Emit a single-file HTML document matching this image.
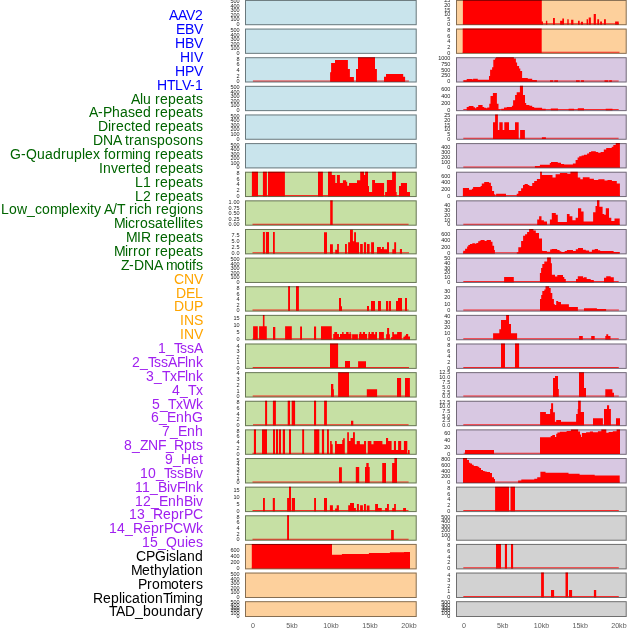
<!DOCTYPE html><html><head><meta charset="utf-8"><style>html,body{margin:0;padding:0;background:#fff;}svg{display:block;will-change:transform;}</style></head><body>
<svg width="630" height="630" viewBox="0 0 630 630">
<rect width="630" height="630" fill="#fff"/>
<g font-family="Liberation Sans, Arial, sans-serif" font-size="14">
<text x="169 178 186 195" y="20.45" fill="#0000ff">AAV2</text>
<text x="176 185 194" y="34.31" fill="#0000ff">EBV</text>
<text x="175 185 194" y="48.17" fill="#0000ff">HBV</text>
<text x="180 190 194" y="62.03" fill="#0000ff">HIV</text>
<text x="175 185 194" y="75.89" fill="#0000ff">HPV</text>
<text x="157 167 175 182 190 195" y="89.75" fill="#0000ff">HTLV-1</text>
<text x="131 140 143 151 155 160 168 176 184 192 196" y="103.60" fill="#006400">Alu repeats</text>
<text x="89 98 103 112 120 128 135 143 151 155 160 168 176 184 192 196" y="117.46" fill="#006400">A-Phased repeats</text>
<text x="98 108 111 116 124 131 135 143 151 155 160 168 176 184 192 196" y="131.32" fill="#006400">Directed repeats</text>
<text x="93 103 113 121 125 129 134 142 150 157 165 173 180 188 196" y="145.18" fill="#006400">DNA transposons</text>
<text x="10 21 26 37 45 53 61 66 74 82 85 93 100 104 108 116 121 132 135 143 151 155 160 168 176 184 192 196" y="159.04" fill="#006400">G-Quadruplex forming repeats</text>
<text x="99 103 111 118 126 131 135 143 151 155 160 168 176 184 192 196" y="172.90" fill="#006400">Inverted repeats</text>
<text x="135 143 151 155 160 168 176 184 192 196" y="186.76" fill="#006400">L1 repeats</text>
<text x="135 143 151 155 160 168 176 184 192 196" y="200.62" fill="#006400">L2 repeats</text>
<text x="1 9 17 27 35 42 50 61 69 72 80 87 90 94 101 104 113 117 125 129 134 137 144 152 156 161 169 177 180 188 196" y="214.48" fill="#006400">Low_complexity A/T rich regions</text>
<text x="114 125 128 135 140 148 155 163 167 175 178 181 184 188 196" y="228.33" fill="#006400">Microsatellites</text>
<text x="126 137 141 151 155 160 168 176 184 192 196" y="242.19" fill="#006400">MIR repeats</text>
<text x="114 125 128 133 138 146 151 155 160 168 176 184 192 196" y="256.05" fill="#006400">Mirror repeats</text>
<text x="121 129 134 144 154 162 166 177 185 189 192 196" y="269.91" fill="#006400">Z-DNA motifs</text>
<text x="174 184 194" y="283.77" fill="#ffa500">CNV</text>
<text x="176 186 195" y="297.63" fill="#ffa500">DEL</text>
<text x="174 184 194" y="311.49" fill="#ffa500">DUP</text>
<text x="180 184 194" y="325.35" fill="#ffa500">INS</text>
<text x="180 184 194" y="339.21" fill="#ffa500">INV</text>
<text x="158 166 174 180 187 194" y="353.07" fill="#a020f0">1_TssA</text>
<text x="132 140 148 154 161 168 177 185 188 196" y="366.93" fill="#a020f0">2_TssAFlnk</text>
<text x="146 154 162 170 177 185 188 196" y="380.78" fill="#a020f0">3_TxFlnk</text>
<text x="172 180 188 196" y="394.64" fill="#a020f0">4_Tx</text>
<text x="152 160 168 176 183 196" y="408.50" fill="#a020f0">5_TxWk</text>
<text x="151 159 167 176 184 192" y="422.36" fill="#a020f0">6_EnhG</text>
<text x="162 170 178 187 195" y="436.22" fill="#a020f0">7_Enh</text>
<text x="124 132 140 148 158 166 174 184 192 196" y="450.08" fill="#a020f0">8_ZNF_Rpts</text>
<text x="165 173 181 191 199" y="463.94" fill="#a020f0">9_Het</text>
<text x="140 148 156 164 170 177 184 193 196" y="477.80" fill="#a020f0">10_TssBiv</text>
<text x="135 142 150 158 167 170 177 185 188 196" y="491.66" fill="#a020f0">11_BivFlnk</text>
<text x="135 143 151 159 168 176 184 193 196" y="505.51" fill="#a020f0">12_EnhBiv</text>
<text x="129 137 145 153 163 171 179 184 193" y="519.37" fill="#a020f0">13_ReprPC</text>
<text x="109 117 125 133 143 151 159 164 173 183 196" y="533.23" fill="#a020f0">14_ReprPCWk</text>
<text x="142 150 158 166 177 185 188 196" y="547.09" fill="#a020f0">15_Quies</text>
<text x="136 146 155 166 169 176 179 187 195" y="560.95" fill="#000000">CPGisland</text>
<text x="131 142 150 154 162 169 172 180 184 187 195" y="574.81" fill="#000000">Methylation</text>
<text x="138 147 152 160 171 179 183 191 196" y="588.67" fill="#000000">Promoters</text>
<text x="93 103 111 119 122 125 132 140 144 147 155 163 170 173 184 187 195" y="602.53" fill="#000000">ReplicationTiming</text>
<text x="109 116 125 135 143 151 159 167 175 183 191 196" y="616.39" fill="#000000">TAD_boundary</text>
</g>
<rect x="245.0" y="-0.05" width="171.70" height="25.25" fill="#c9e4ec"/>
<rect x="245.5" y="0.45" width="170.70" height="24.25" fill="none" stroke="#000" stroke-opacity="0.47" stroke-width="1"/>
<rect x="456.0" y="-0.05" width="170.70" height="25.25" fill="#fdd09c"/>
<path d="M462.90 23.20H619.00V24.20H462.90Z" fill="#ff0000" fill-opacity="0.8"/><path d="M462.90 24.40L462.90 -0.05L541.80 -0.05L541.80 21.40L543.00 21.40L543.00 24.40ZM545.90 24.40L545.90 20.70L547.30 20.70L547.30 24.40ZM553.00 24.40L553.00 17.90L554.90 17.90L554.90 24.40ZM560.10 24.40L560.10 20.70L562.30 20.70L562.30 18.60L564.00 18.60L564.00 24.40ZM567.30 24.40L567.30 19.30L568.70 19.30L568.70 24.40ZM571.10 24.40L571.10 19.70L573.40 19.70L573.40 24.40ZM578.00 24.40L578.00 20.70L579.70 20.70L579.70 24.40ZM580.90 24.40L580.90 21.70L583.00 21.70L583.00 24.40ZM586.60 24.40L586.60 19.30L588.00 19.30L588.00 24.40ZM588.70 24.40L588.70 17.40L590.90 17.40L590.90 24.40ZM593.70 24.40L593.70 14.00L595.90 14.00L595.90 24.40ZM597.30 24.40L597.30 19.30L599.10 19.30L599.10 24.40ZM600.10 24.40L600.10 21.40L602.00 21.40L602.00 24.40ZM604.00 24.40L604.00 19.30L605.90 19.30L605.90 24.40ZM615.10 24.40L615.10 21.40L618.70 21.40L618.70 24.40Z" fill="#ff0000"/>
<rect x="456.5" y="0.45" width="169.70" height="24.25" fill="none" stroke="#000" stroke-opacity="0.47" stroke-width="1"/>
<rect x="245.0" y="28.58" width="171.70" height="25.26" fill="#c9e4ec"/>
<rect x="245.5" y="29.08" width="170.70" height="24.26" fill="none" stroke="#000" stroke-opacity="0.47" stroke-width="1"/>
<rect x="456.0" y="28.58" width="170.70" height="25.26" fill="#fdd09c"/>
<path d="M462.70 51.84H619.50V52.84H462.70Z" fill="#ff0000" fill-opacity="0.8"/><path d="M462.70 53.04L462.70 28.58L541.70 28.58L541.70 53.04Z" fill="#ff0000"/>
<rect x="456.5" y="29.08" width="169.70" height="24.26" fill="none" stroke="#000" stroke-opacity="0.47" stroke-width="1"/>
<rect x="245.0" y="57.21" width="171.70" height="25.27" fill="#c9e4ec"/>
<path d="M252.90 80.48H408.90V81.48H252.90Z" fill="#ff0000" fill-opacity="0.8"/><path d="M330.10 81.68L330.10 72.20L331.10 72.20L331.10 63.10L335.00 63.10L335.00 60.10L347.90 60.10L347.90 69.00L349.90 69.00L349.90 76.90L353.90 76.90L353.90 81.68ZM356.00 81.68L356.00 69.10L358.00 69.10L358.00 57.21L375.00 57.21L375.00 69.10L376.90 69.10L376.90 81.68ZM384.00 81.68L384.00 76.80L386.00 76.80L386.00 73.90L403.20 73.90L403.20 76.80L405.10 76.80L405.10 81.68Z" fill="#ff0000"/>
<rect x="245.5" y="57.71" width="170.70" height="24.27" fill="none" stroke="#000" stroke-opacity="0.47" stroke-width="1"/>
<rect x="456.0" y="57.21" width="170.70" height="25.27" fill="#d8c8e2"/>
<path d="M462.90 80.48H618.70V81.48H462.90Z" fill="#ff0000" fill-opacity="0.8"/><path d="M463.60 81.68L463.60 80.20L466.70 80.20L466.70 79.00L472.30 79.00L472.30 79.60L473.10 79.60L473.10 78.80L477.80 78.80L477.80 79.80L489.00 79.80L489.00 76.00L490.10 76.00L490.10 69.70L492.10 69.70L492.10 67.30L493.30 67.30L493.30 59.80L494.90 59.80L494.90 58.20L496.10 58.20L496.10 57.21L513.90 57.21L513.90 58.60L515.90 58.60L515.90 62.50L517.10 62.50L517.10 66.10L519.10 66.10L519.10 68.50L520.30 68.50L520.30 70.90L522.10 70.90L522.10 77.90L527.80 77.90L527.80 78.80L532.20 78.80L532.20 80.00L536.90 80.00L536.90 81.68ZM550.00 81.68L550.00 80.20L553.10 80.20L553.10 81.68ZM554.30 81.68L554.30 80.20L558.00 80.20L558.00 81.68ZM576.00 81.68L576.00 80.20L579.70 80.20L579.70 81.68ZM581.00 81.68L581.00 80.20L584.00 80.20L584.00 81.68ZM604.50 81.68L604.50 80.20L608.20 80.20L608.20 81.68ZM609.20 81.68L609.20 80.20L611.90 80.20L611.90 81.68Z" fill="#ff0000"/>
<rect x="456.5" y="57.71" width="169.70" height="24.27" fill="none" stroke="#000" stroke-opacity="0.47" stroke-width="1"/>
<rect x="245.0" y="85.84" width="171.70" height="25.28" fill="#c9e4ec"/>
<rect x="245.5" y="86.34" width="170.70" height="24.28" fill="none" stroke="#000" stroke-opacity="0.47" stroke-width="1"/>
<rect x="456.0" y="85.84" width="170.70" height="25.28" fill="#d8c8e2"/>
<path d="M463.30 109.12H618.70V110.12H463.30Z" fill="#ff0000" fill-opacity="0.8"/><path d="M466.70 110.32L466.70 107.00L468.70 107.00L468.70 106.10L473.50 106.10L473.50 107.20L475.10 107.20L475.10 108.20L476.30 108.20L476.30 106.90L478.20 106.90L478.20 105.00L482.60 105.00L482.60 107.00L484.20 107.00L484.20 107.80L486.20 107.80L486.20 108.20L487.20 108.20L487.20 107.60L489.30 107.60L489.30 103.80L490.50 103.80L490.50 95.90L492.90 95.90L492.90 93.10L496.90 93.10L496.90 103.80L498.50 103.80L498.50 109.40L500.10 109.40L500.10 110.32ZM501.30 110.32L501.30 108.80L504.00 108.80L504.00 107.60L506.80 107.60L506.80 107.00L511.90 107.00L511.90 105.80L513.10 105.80L513.10 100.30L515.10 100.30L515.10 95.10L516.70 95.10L516.70 92.20L519.90 92.20L519.90 85.84L523.00 85.84L523.00 95.10L525.00 95.10L525.00 103.00L526.20 103.00L526.20 105.00L529.40 105.00L529.40 105.80L532.20 105.80L532.20 107.00L534.20 107.00L534.20 107.80L542.10 107.80L542.10 108.80L545.70 108.80L545.70 110.32ZM550.80 110.32L550.80 108.50L558.00 108.50L558.00 110.32ZM568.60 110.32L568.60 108.80L574.10 108.80L574.10 110.32ZM577.80 110.32L577.80 108.30L584.00 108.30L584.00 110.32ZM605.70 110.32L605.70 108.80L612.50 108.80L612.50 110.32Z" fill="#ff0000"/>
<rect x="456.5" y="86.34" width="169.70" height="24.28" fill="none" stroke="#000" stroke-opacity="0.47" stroke-width="1"/>
<rect x="245.0" y="114.47" width="171.70" height="25.29" fill="#c9e4ec"/>
<rect x="245.5" y="114.97" width="170.70" height="24.29" fill="none" stroke="#000" stroke-opacity="0.47" stroke-width="1"/>
<rect x="456.0" y="114.47" width="170.70" height="25.29" fill="#d8c8e2"/>
<path d="M463.30 137.76H618.60V138.76H463.30Z" fill="#ff0000" fill-opacity="0.8"/><path d="M493.00 138.96L493.00 122.20L495.10 122.20L495.10 114.47L497.90 114.47L497.90 130.10L499.30 130.10L499.30 122.20L502.70 122.20L502.70 130.10L504.30 130.10L504.30 122.20L509.00 122.20L509.00 130.10L515.00 130.10L515.00 122.20L518.70 122.20L518.70 138.96ZM520.10 138.96L520.10 130.10L524.90 130.10L524.90 138.96ZM541.90 138.96L541.90 137.20L545.90 137.20L545.90 138.96Z" fill="#ff0000"/>
<rect x="456.5" y="114.97" width="169.70" height="24.29" fill="none" stroke="#000" stroke-opacity="0.47" stroke-width="1"/>
<rect x="245.0" y="143.10" width="171.70" height="25.30" fill="#c9e4ec"/>
<rect x="245.5" y="143.60" width="170.70" height="24.30" fill="none" stroke="#000" stroke-opacity="0.47" stroke-width="1"/>
<rect x="456.0" y="143.10" width="170.70" height="25.30" fill="#d8c8e2"/>
<path d="M463.30 166.40H620.00V167.40H463.30Z" fill="#ff0000" fill-opacity="0.8"/><path d="M534.90 167.60L534.90 166.00L539.90 166.00L539.90 164.80L549.80 164.80L549.80 163.00L551.00 163.00L551.00 161.90L557.80 161.90L557.80 162.80L561.00 162.80L561.00 163.90L564.10 163.90L564.10 164.40L572.90 164.40L572.90 163.60L575.60 163.60L575.60 160.00L577.60 160.00L577.60 157.50L579.20 157.50L579.20 156.30L581.60 156.30L581.60 155.50L583.90 155.50L583.90 154.80L587.10 154.80L587.10 153.60L589.10 153.60L589.10 152.00L591.10 152.00L591.10 151.20L595.80 151.20L595.80 152.00L598.20 152.00L598.20 152.70L600.60 152.70L600.60 151.90L603.80 151.90L603.80 149.50L606.20 149.50L606.20 148.00L611.70 148.00L611.70 146.80L613.30 146.80L613.30 145.00L615.70 145.00L615.70 143.10L619.90 143.10L619.90 167.60Z" fill="#ff0000"/>
<rect x="456.5" y="143.60" width="169.70" height="24.30" fill="none" stroke="#000" stroke-opacity="0.47" stroke-width="1"/>
<rect x="245.0" y="171.73" width="171.70" height="25.31" fill="#c6e0a4"/>
<path d="M251.90 195.04H410.00V196.04H251.90Z" fill="#ff0000" fill-opacity="0.8"/><path d="M251.90 196.24L251.90 171.73L258.00 171.73L258.00 196.24ZM262.90 196.24L262.90 171.73L266.90 171.73L266.90 196.24ZM268.00 196.24L268.00 171.73L284.90 171.73L284.90 196.24ZM318.00 196.24L318.00 171.73L322.90 171.73L322.90 196.24ZM328.00 196.24L328.00 171.73L331.80 171.73L331.80 175.10L335.30 175.10L335.30 183.00L336.90 183.00L336.90 175.10L339.90 175.10L339.90 183.00L342.90 183.00L342.90 180.20L346.10 180.20L346.10 181.70L347.20 181.70L347.20 185.70L349.00 185.70L349.00 183.00L357.00 183.00L357.00 180.20L360.20 180.20L360.20 171.73L364.00 171.73L364.00 175.00L365.10 175.00L365.10 171.73L368.00 171.73L368.00 186.00L369.00 186.00L369.00 192.10L372.10 192.10L372.10 180.10L375.00 180.10L375.00 183.10L384.10 183.10L384.10 196.24ZM385.10 196.24L385.10 192.10L386.90 192.10L386.90 180.10L392.10 180.10L392.10 171.73L395.90 171.73L395.90 192.00L396.70 192.00L396.70 196.24ZM399.00 196.24L399.00 186.00L400.90 186.00L400.90 183.10L407.00 183.10L407.00 192.10L410.00 192.10L410.00 196.24Z" fill="#ff0000"/>
<rect x="245.5" y="172.23" width="170.70" height="24.31" fill="none" stroke="#000" stroke-opacity="0.47" stroke-width="1"/>
<rect x="456.0" y="171.73" width="170.70" height="25.31" fill="#d8c8e2"/>
<path d="M462.90 195.04H619.90V196.04H462.90Z" fill="#ff0000" fill-opacity="0.8"/><path d="M462.90 196.24L462.90 188.10L469.00 188.10L469.00 189.80L471.90 189.80L471.90 188.80L473.10 188.80L473.10 187.10L480.60 187.10L480.60 185.90L481.80 185.90L481.80 183.50L484.20 183.50L484.20 181.90L489.00 181.90L489.00 182.70L490.90 182.70L490.90 185.90L492.10 185.90L492.10 191.00L494.10 191.00L494.10 194.20L495.30 194.20L495.30 196.24ZM496.10 196.24L496.10 193.80L506.00 193.80L506.00 196.24ZM516.70 196.24L516.70 193.80L518.30 193.80L518.30 191.00L521.10 191.00L521.10 188.30L523.00 188.30L523.00 185.10L524.60 185.10L524.60 184.10L527.80 184.10L527.80 185.10L529.40 185.10L529.40 185.90L532.20 185.90L532.20 183.10L534.20 183.10L534.20 181.10L536.90 181.10L536.90 179.10L540.10 179.10L540.10 171.73L541.90 171.73L541.90 174.90L546.90 174.90L546.90 174.90L552.00 174.90L552.00 175.00L552.50 175.00L552.50 177.40L555.60 177.40L555.60 174.30L559.90 174.30L559.90 173.10L567.30 173.10L567.30 173.80L570.40 173.80L570.40 171.73L577.80 171.73L577.80 177.40L580.30 177.40L580.30 179.30L582.80 179.30L582.80 177.20L589.60 177.20L589.60 178.70L593.90 178.70L593.90 180.10L598.30 180.10L598.30 179.30L604.50 179.30L604.50 180.50L607.50 180.50L607.50 179.90L611.90 179.90L611.90 181.10L616.80 181.10L616.80 183.60L619.90 183.60L619.90 196.24Z" fill="#ff0000"/>
<rect x="456.5" y="172.23" width="169.70" height="24.31" fill="none" stroke="#000" stroke-opacity="0.47" stroke-width="1"/>
<rect x="245.0" y="200.36" width="171.70" height="25.32" fill="#c6e0a4"/>
<path d="M252.50 223.68H408.60V224.68H252.50Z" fill="#ff0000" fill-opacity="0.8"/><path d="M330.20 224.88L330.20 200.36L332.70 200.36L332.70 224.88Z" fill="#ff0000"/>
<rect x="245.5" y="200.86" width="170.70" height="24.32" fill="none" stroke="#000" stroke-opacity="0.47" stroke-width="1"/>
<rect x="456.0" y="200.36" width="170.70" height="25.32" fill="#d8c8e2"/>
<path d="M463.30 223.68H619.70V224.68H463.30Z" fill="#ff0000" fill-opacity="0.8"/><path d="M537.20 224.88L537.20 219.40L539.10 219.40L539.10 216.30L541.50 216.30L541.50 220.20L543.90 220.20L543.90 221.50L547.00 221.50L547.00 224.88ZM549.90 224.88L549.90 219.40L551.80 219.40L551.80 213.10L555.80 213.10L555.80 214.70L557.80 214.70L557.80 222.10L566.90 222.10L566.90 213.90L569.60 213.90L569.60 216.30L572.40 216.30L572.40 220.20L575.60 220.20L575.60 217.80L578.00 217.80L578.00 208.30L581.20 208.30L581.20 211.50L583.60 211.50L583.60 221.50L593.10 221.50L593.10 212.30L595.50 212.30L595.50 205.90L597.00 205.90L597.00 200.36L599.40 200.36L599.40 206.70L602.60 206.70L602.60 213.90L604.20 213.90L604.20 214.70L605.80 214.70L605.80 208.30L609.00 208.30L609.00 217.80L611.30 217.80L611.30 221.00L614.50 221.00L614.50 218.60L619.70 218.60L619.70 224.88Z" fill="#ff0000"/>
<rect x="456.5" y="200.86" width="169.70" height="24.32" fill="none" stroke="#000" stroke-opacity="0.47" stroke-width="1"/>
<rect x="245.0" y="228.99" width="171.70" height="25.33" fill="#c6e0a4"/>
<path d="M252.50 252.32H409.00V253.32H252.50Z" fill="#ff0000" fill-opacity="0.8"/><path d="M262.90 253.52L262.90 232.00L264.90 232.00L264.90 253.52ZM265.90 253.52L265.90 232.00L269.00 232.00L269.00 253.52ZM273.00 253.52L273.00 232.00L274.80 232.00L274.80 253.52ZM324.00 253.52L324.00 232.20L327.00 232.20L327.00 253.52ZM330.00 253.52L330.00 244.30L332.90 244.30L332.90 253.52ZM335.20 253.52L335.20 249.80L337.10 249.80L337.10 244.10L338.90 244.10L338.90 253.52ZM345.00 253.52L345.00 244.10L346.90 244.10L346.90 253.52ZM348.10 253.52L348.10 242.20L350.00 242.20L350.00 229.80L352.90 229.80L352.90 241.20L354.10 241.20L354.10 232.20L356.00 232.20L356.00 242.20L358.90 242.20L358.90 242.20L359.00 242.20L359.00 253.52ZM360.10 253.52L360.10 244.10L362.80 244.10L362.80 253.52ZM363.90 253.52L363.90 242.20L366.10 242.20L366.10 253.52ZM367.00 253.52L367.00 244.10L369.60 244.10L369.60 253.52ZM371.10 253.52L371.10 242.20L374.00 242.20L374.00 253.52ZM377.00 253.52L377.00 247.10L380.90 247.10L380.90 248.90L382.00 248.90L382.00 247.10L383.90 247.10L383.90 249.30L387.00 249.30L387.00 242.20L389.00 242.20L389.00 253.52ZM392.30 253.52L392.30 249.30L394.20 249.30L394.20 242.20L396.10 242.20L396.10 253.52ZM399.90 253.52L399.90 249.00L402.00 249.00L402.00 253.52Z" fill="#ff0000"/>
<rect x="245.5" y="229.49" width="170.70" height="24.33" fill="none" stroke="#000" stroke-opacity="0.47" stroke-width="1"/>
<rect x="456.0" y="228.99" width="170.70" height="25.33" fill="#d8c8e2"/>
<path d="M462.90 252.32H619.70V253.32H462.90Z" fill="#ff0000" fill-opacity="0.8"/><path d="M462.90 253.52L462.90 253.20L463.20 253.20L463.20 250.80L465.10 250.80L465.10 248.80L467.10 248.80L467.10 246.40L468.30 246.40L468.30 245.10L469.90 245.10L469.90 244.10L472.30 244.10L472.30 243.30L475.10 243.30L475.10 243.80L476.30 243.80L476.30 242.90L478.20 242.90L478.20 241.30L479.80 241.30L479.80 240.50L481.00 240.50L481.00 239.90L484.60 239.90L484.60 240.90L486.60 240.90L486.60 239.90L490.90 239.90L490.90 241.70L492.50 241.70L492.50 245.70L494.10 245.70L494.10 250.00L494.90 250.00L494.90 253.52ZM516.80 253.52L516.80 252.20L518.30 252.20L518.30 247.20L521.10 247.20L521.10 241.10L523.10 241.10L523.10 235.70L525.10 235.70L525.10 234.30L527.10 234.30L527.10 231.90L529.10 231.90L529.10 228.99L533.40 228.99L533.40 230.60L535.80 230.60L535.80 233.00L539.00 233.00L539.00 238.50L542.00 238.50L542.00 250.80L543.00 250.80L543.00 251.00L546.90 251.00L546.90 251.80L550.10 251.80L550.10 249.60L551.70 249.60L551.70 249.10L557.20 249.10L557.20 250.00L559.60 250.00L559.60 251.20L561.30 251.20L561.30 252.00L564.70 252.00L564.70 250.90L566.90 250.90L566.90 250.10L573.00 250.10L573.00 250.90L575.80 250.90L575.80 249.20L578.00 249.20L578.00 247.90L583.00 247.90L583.00 249.80L585.80 249.80L585.80 250.60L589.10 250.60L589.10 251.70L591.90 251.70L591.90 249.80L594.70 249.80L594.70 249.00L598.00 249.00L598.00 250.30L600.20 250.30L600.20 250.90L613.60 250.90L613.60 252.00L619.70 252.00L619.70 253.52Z" fill="#ff0000"/>
<rect x="456.5" y="229.49" width="169.70" height="24.33" fill="none" stroke="#000" stroke-opacity="0.47" stroke-width="1"/>
<rect x="245.0" y="257.62" width="171.70" height="25.34" fill="#c6e0a4"/>
<rect x="245.5" y="258.12" width="170.70" height="24.34" fill="none" stroke="#000" stroke-opacity="0.47" stroke-width="1"/>
<rect x="456.0" y="257.62" width="170.70" height="25.34" fill="#d8c8e2"/>
<path d="M463.30 280.96H618.70V281.96H463.30Z" fill="#ff0000" fill-opacity="0.8"/><path d="M504.10 282.16L504.10 277.00L513.80 277.00L513.80 282.16ZM539.90 282.16L539.90 273.10L541.10 273.10L541.10 268.10L542.30 268.10L542.30 263.90L544.30 263.90L544.30 261.40L547.10 261.40L547.10 257.62L550.90 257.62L550.90 263.30L551.90 263.30L551.90 274.70L555.00 274.70L555.00 276.60L557.30 276.60L557.30 274.90L563.00 274.90L563.00 277.00L564.30 277.00L564.30 279.00L565.80 279.00L565.80 282.16ZM576.00 282.16L576.00 279.10L577.80 279.10L577.80 276.30L583.10 276.30L583.10 277.80L584.00 277.80L584.00 277.20L586.70 277.20L586.70 279.10L590.70 279.10L590.70 280.00L593.80 280.00L593.80 282.16ZM604.00 282.16L604.00 277.80L606.20 277.80L606.20 276.30L610.70 276.30L610.70 277.20L613.80 277.20L613.80 282.16Z" fill="#ff0000"/>
<rect x="456.5" y="258.12" width="169.70" height="24.34" fill="none" stroke="#000" stroke-opacity="0.47" stroke-width="1"/>
<rect x="245.0" y="286.25" width="171.70" height="25.35" fill="#c6e0a4"/>
<path d="M252.50 309.60H408.70V310.60H252.50Z" fill="#ff0000" fill-opacity="0.8"/><path d="M288.10 310.80L288.10 286.25L290.00 286.25L290.00 310.80ZM296.00 310.80L296.00 286.25L298.90 286.25L298.90 310.80ZM339.00 310.80L339.00 298.00L341.00 298.00L341.00 306.30L342.00 306.30L342.00 310.80ZM367.00 310.80L367.00 306.00L369.00 306.00L369.00 310.80ZM371.00 310.80L371.00 301.00L375.00 301.00L375.00 310.80ZM378.00 310.80L378.00 301.10L381.00 301.10L381.00 310.80ZM386.00 310.80L386.00 301.10L388.10 301.10L388.10 310.80ZM388.80 310.80L388.80 301.10L391.00 301.10L391.00 310.80ZM396.00 310.80L396.00 301.10L398.00 301.10L398.00 298.00L402.00 298.00L402.00 310.80ZM405.00 310.80L405.00 298.00L407.00 298.00L407.00 310.80Z" fill="#ff0000"/>
<rect x="245.5" y="286.75" width="170.70" height="24.35" fill="none" stroke="#000" stroke-opacity="0.47" stroke-width="1"/>
<rect x="456.0" y="286.25" width="170.70" height="25.35" fill="#d8c8e2"/>
<path d="M463.30 309.60H618.90V310.60H463.30Z" fill="#ff0000" fill-opacity="0.8"/><path d="M540.00 310.80L540.00 299.10L541.20 299.10L541.20 295.10L542.30 295.10L542.30 291.00L544.30 291.00L544.30 289.60L545.50 289.60L545.50 286.25L549.10 286.25L549.10 288.00L550.70 288.00L550.70 293.10L552.30 293.10L552.30 299.10L553.90 299.10L553.90 304.20L555.00 304.20L555.00 305.00L556.20 305.00L556.20 301.10L558.20 301.10L558.20 302.10L561.00 302.10L561.00 304.20L568.90 304.20L568.90 307.00L577.90 307.00L577.90 310.80ZM584.00 310.80L584.00 308.20L596.90 308.20L596.90 309.10L606.10 309.10L606.10 310.80Z" fill="#ff0000"/>
<rect x="456.5" y="286.75" width="169.70" height="24.35" fill="none" stroke="#000" stroke-opacity="0.47" stroke-width="1"/>
<rect x="245.0" y="314.88" width="171.70" height="25.36" fill="#c6e0a4"/>
<path d="M252.50 338.24H410.00V339.24H252.50Z" fill="#ff0000" fill-opacity="0.8"/><path d="M253.10 339.44L253.10 326.30L257.80 326.30L257.80 339.44ZM259.10 339.44L259.10 326.30L262.90 326.30L262.90 314.88L264.50 314.88L264.50 326.30L266.80 326.30L266.80 339.44ZM273.00 339.44L273.00 327.00L275.30 327.00L275.30 339.44ZM285.10 339.44L285.10 326.30L291.80 326.30L291.80 339.44ZM300.10 339.44L300.10 326.50L302.00 326.50L302.00 339.44ZM314.00 339.44L314.00 326.50L316.10 326.50L316.10 339.44ZM321.00 339.44L321.00 326.30L331.80 326.30L331.80 339.44ZM333.20 339.44L333.20 334.10L334.30 334.10L334.30 331.90L337.10 331.90L337.10 334.10L339.00 334.10L339.00 336.90L340.00 336.90L340.00 334.10L342.10 334.10L342.10 331.90L343.60 331.90L343.60 334.10L346.10 334.10L346.10 331.90L348.60 331.90L348.60 334.10L349.60 334.10L349.60 331.90L350.70 331.90L350.70 334.10L351.40 334.10L351.40 339.44ZM352.10 339.44L352.10 334.30L357.90 334.30L357.90 339.44ZM358.90 339.44L358.90 334.10L359.60 334.10L359.60 331.90L361.40 331.90L361.40 334.10L362.90 334.10L362.90 331.90L365.00 331.90L365.00 334.10L367.10 334.10L367.10 339.44ZM368.20 339.44L368.20 334.10L368.60 334.10L368.60 331.90L370.00 331.90L370.00 334.10L371.40 334.10L371.40 332.00L373.90 332.00L373.90 334.20L375.20 334.20L375.20 332.10L377.00 332.10L377.00 339.44ZM379.00 339.44L379.00 332.10L383.90 332.10L383.90 339.44ZM386.10 339.44L386.10 334.20L387.10 334.20L387.10 328.00L389.10 328.00L389.10 334.20L389.90 334.20L389.90 339.44ZM391.20 339.44L391.20 337.00L392.20 337.00L392.20 332.10L393.90 332.10L393.90 334.20L397.10 334.20L397.10 332.10L401.80 332.10L401.80 339.44ZM403.40 339.44L403.40 336.70L404.70 336.70L404.70 335.50L406.00 335.50L406.00 334.00L408.20 334.00L408.20 336.40L410.00 336.40L410.00 339.44Z" fill="#ff0000"/>
<rect x="245.5" y="315.38" width="170.70" height="24.36" fill="none" stroke="#000" stroke-opacity="0.47" stroke-width="1"/>
<rect x="456.0" y="314.88" width="170.70" height="25.36" fill="#d8c8e2"/>
<path d="M463.30 338.24H618.80V339.24H463.30Z" fill="#ff0000" fill-opacity="0.8"/><path d="M493.10 339.44L493.10 333.20L499.30 333.20L499.30 329.20L501.00 329.20L501.00 320.10L506.10 320.10L506.10 314.88L509.00 314.88L509.00 323.90L511.00 323.90L511.00 333.20L517.10 333.20L517.10 339.44ZM579.10 339.44L579.10 336.10L582.80 336.10L582.80 339.44ZM591.20 339.44L591.20 336.10L594.70 336.10L594.70 339.44ZM605.30 339.44L605.30 336.10L606.30 336.10L606.30 334.20L608.20 334.20L608.20 336.10L610.50 336.10L610.50 339.44Z" fill="#ff0000"/>
<rect x="456.5" y="315.38" width="169.70" height="24.36" fill="none" stroke="#000" stroke-opacity="0.47" stroke-width="1"/>
<rect x="245.0" y="343.51" width="171.70" height="25.37" fill="#c6e0a4"/>
<path d="M252.70 366.88H409.00V367.88H252.70Z" fill="#ff0000" fill-opacity="0.8"/><path d="M330.00 368.08L330.00 343.51L338.10 343.51L338.10 368.08ZM345.00 368.08L345.00 361.10L350.00 361.10L350.00 368.08ZM358.10 368.08L358.10 361.20L366.00 361.20L366.00 368.08Z" fill="#ff0000"/>
<rect x="245.5" y="344.01" width="170.70" height="24.37" fill="none" stroke="#000" stroke-opacity="0.47" stroke-width="1"/>
<rect x="456.0" y="343.51" width="170.70" height="25.37" fill="#d8c8e2"/>
<path d="M463.30 366.88H618.80V367.88H463.30Z" fill="#ff0000" fill-opacity="0.8"/><path d="M501.00 368.08L501.00 343.51L505.00 343.51L505.00 368.08ZM515.00 368.08L515.00 343.51L519.10 343.51L519.10 368.08Z" fill="#ff0000"/>
<rect x="456.5" y="344.01" width="169.70" height="24.37" fill="none" stroke="#000" stroke-opacity="0.47" stroke-width="1"/>
<rect x="245.0" y="372.14" width="171.70" height="25.38" fill="#c6e0a4"/>
<path d="M252.70 395.52H409.90V396.52H252.70Z" fill="#ff0000" fill-opacity="0.8"/><path d="M331.00 396.72L331.00 384.10L333.30 384.10L333.30 389.20L333.90 389.20L333.90 396.72ZM338.10 396.72L338.10 372.14L349.00 372.14L349.00 396.72ZM366.80 396.72L366.80 389.20L377.10 389.20L377.10 396.72ZM397.00 396.72L397.00 378.10L401.10 378.10L401.10 396.72ZM405.00 396.72L405.00 378.10L409.90 378.10L409.90 396.72Z" fill="#ff0000"/>
<rect x="245.5" y="372.64" width="170.70" height="24.38" fill="none" stroke="#000" stroke-opacity="0.47" stroke-width="1"/>
<rect x="456.0" y="372.14" width="170.70" height="25.38" fill="#d8c8e2"/>
<path d="M463.30 395.52H618.80V396.52H463.30Z" fill="#ff0000" fill-opacity="0.8"/><path d="M553.00 396.72L553.00 378.00L555.00 378.00L555.00 376.10L558.00 376.10L558.00 389.00L558.80 389.00L558.80 396.72ZM579.00 396.72L579.00 372.14L584.00 372.14L584.00 387.90L586.00 387.90L586.00 396.72ZM605.30 396.72L605.30 389.30L612.40 389.30L612.40 392.80L614.00 392.80L614.00 396.72Z" fill="#ff0000"/>
<rect x="456.5" y="372.64" width="169.70" height="24.38" fill="none" stroke="#000" stroke-opacity="0.47" stroke-width="1"/>
<rect x="245.0" y="400.77" width="171.70" height="25.39" fill="#c6e0a4"/>
<path d="M253.00 424.16H408.60V425.16H253.00Z" fill="#ff0000" fill-opacity="0.8"/><path d="M265.10 425.36L265.10 400.77L267.10 400.77L267.10 425.36ZM272.90 425.36L272.90 400.77L275.90 400.77L275.90 425.36ZM287.70 425.36L287.70 400.77L290.00 400.77L290.00 425.36ZM291.70 425.36L291.70 400.77L295.10 400.77L295.10 425.36ZM314.00 425.36L314.00 400.77L316.10 400.77L316.10 425.36ZM324.10 425.36L324.10 400.77L326.90 400.77L326.90 425.36ZM351.00 425.36L351.00 420.80L353.30 420.80L353.30 425.36Z" fill="#ff0000"/>
<rect x="245.5" y="401.27" width="170.70" height="24.39" fill="none" stroke="#000" stroke-opacity="0.47" stroke-width="1"/>
<rect x="456.0" y="400.77" width="170.70" height="25.39" fill="#d8c8e2"/>
<path d="M463.30 424.16H620.00V425.16H463.30Z" fill="#ff0000" fill-opacity="0.8"/><path d="M540.10 425.36L540.10 412.10L545.90 412.10L545.90 413.90L550.10 413.90L550.10 409.10L551.10 409.10L551.10 403.20L553.10 403.20L553.10 412.30L554.90 412.30L554.90 421.80L556.20 421.80L556.20 420.10L561.00 420.10L561.00 421.80L576.10 421.80L576.10 413.90L577.70 413.90L577.70 409.10L578.10 409.10L578.10 400.77L580.80 400.77L580.80 412.10L584.00 412.10L584.00 425.36ZM593.00 425.36L593.00 418.20L602.90 418.20L602.90 425.36ZM604.00 425.36L604.00 409.00L607.00 409.00L607.00 405.20L609.10 405.20L609.10 409.00L610.90 409.00L610.90 425.36ZM616.00 425.36L616.00 418.20L620.00 418.20L620.00 425.36Z" fill="#ff0000"/>
<rect x="456.5" y="401.27" width="169.70" height="24.39" fill="none" stroke="#000" stroke-opacity="0.47" stroke-width="1"/>
<rect x="245.0" y="429.40" width="171.70" height="25.40" fill="#c6e0a4"/>
<path d="M252.40 452.80H409.60V453.80H252.40Z" fill="#ff0000" fill-opacity="0.8"/><path d="M253.90 454.00L253.90 429.40L256.00 429.40L256.00 454.00ZM262.00 454.00L262.00 429.40L267.00 429.40L267.00 454.00ZM273.00 454.00L273.00 429.40L275.00 429.40L275.00 454.00ZM276.00 454.00L276.00 429.40L278.10 429.40L278.10 454.00ZM279.00 454.00L279.00 429.40L281.00 429.40L281.00 454.00ZM282.80 454.00L282.80 429.40L285.00 429.40L285.00 454.00ZM289.00 454.00L289.00 429.40L291.00 429.40L291.00 454.00ZM302.20 454.00L302.20 429.40L304.10 429.40L304.10 454.00ZM314.10 454.00L314.10 429.40L319.30 429.40L319.30 454.00ZM321.90 454.00L321.90 429.40L324.10 429.40L324.10 454.00ZM327.00 454.00L327.00 429.40L328.90 429.40L328.90 454.00ZM330.10 454.00L330.10 441.10L331.70 441.10L331.70 444.20L332.70 444.20L332.70 454.00ZM335.00 454.00L335.00 441.10L336.80 441.10L336.80 444.00L342.20 444.00L342.20 439.90L343.10 439.90L343.10 438.30L344.80 438.30L344.80 454.00ZM347.20 454.00L347.20 432.30L348.90 432.30L348.90 441.10L350.50 441.10L350.50 438.00L353.00 438.00L353.00 432.30L354.90 432.30L354.90 444.20L356.70 444.20L356.70 441.10L359.90 441.10L359.90 444.20L364.00 444.20L364.00 441.10L366.10 441.10L366.10 454.00ZM367.70 454.00L367.70 441.10L371.40 441.10L371.40 444.20L373.50 444.20L373.50 441.10L382.40 441.10L382.40 444.20L386.00 444.20L386.00 438.00L388.10 438.00L388.10 441.10L391.60 441.10L391.60 450.00L393.90 450.00L393.90 441.10L396.00 441.10L396.00 450.00L398.10 450.00L398.10 441.10L401.20 441.10L401.20 450.00L403.90 450.00L403.90 441.10L407.30 441.10L407.30 454.00ZM408.00 454.00L408.00 450.00L409.60 450.00L409.60 454.00Z" fill="#ff0000"/>
<rect x="245.5" y="429.90" width="170.70" height="24.40" fill="none" stroke="#000" stroke-opacity="0.47" stroke-width="1"/>
<rect x="456.0" y="429.40" width="170.70" height="25.40" fill="#d8c8e2"/>
<path d="M463.70 452.80H620.00V453.80H463.70Z" fill="#ff0000" fill-opacity="0.8"/><path d="M465.00 454.00L465.00 450.00L494.00 450.00L494.00 454.00ZM540.00 454.00L540.00 437.20L550.70 437.20L550.70 436.10L552.30 436.10L552.30 434.90L555.00 434.90L555.00 436.90L556.20 436.90L556.20 433.70L557.40 433.70L557.40 432.60L559.80 432.60L559.80 431.80L566.60 431.80L566.60 431.00L570.90 431.00L570.90 429.40L578.10 429.40L578.10 431.40L580.00 431.40L580.00 434.50L581.10 434.50L581.10 436.90L581.90 436.90L581.90 433.10L586.10 433.10L586.10 432.30L589.90 432.30L589.90 431.40L593.00 431.40L593.00 432.20L597.90 432.20L597.90 431.20L601.30 431.20L601.30 429.40L606.30 429.40L606.30 432.80L608.60 432.80L608.60 432.00L612.80 432.00L612.80 431.20L616.60 431.20L616.60 429.40L620.00 429.40L620.00 454.00Z" fill="#ff0000"/>
<rect x="456.5" y="429.90" width="169.70" height="24.40" fill="none" stroke="#000" stroke-opacity="0.47" stroke-width="1"/>
<rect x="245.0" y="458.03" width="171.70" height="25.41" fill="#c6e0a4"/>
<path d="M252.50 481.44H408.60V482.44H252.50Z" fill="#ff0000" fill-opacity="0.8"/><path d="M339.00 482.64L339.00 467.20L341.90 467.20L341.90 482.64ZM355.80 482.64L355.80 467.00L359.20 467.00L359.20 482.64ZM365.00 482.64L365.00 467.00L366.30 467.00L366.30 463.10L368.70 463.10L368.70 467.00L369.70 467.00L369.70 482.64ZM382.20 482.64L382.20 463.10L386.00 463.10L386.00 482.64ZM392.10 482.64L392.10 463.10L394.40 463.10L394.40 458.03L397.00 458.03L397.00 482.64Z" fill="#ff0000"/>
<rect x="245.5" y="458.53" width="170.70" height="24.41" fill="none" stroke="#000" stroke-opacity="0.47" stroke-width="1"/>
<rect x="456.0" y="458.03" width="170.70" height="25.41" fill="#d8c8e2"/>
<path d="M463.00 481.44H619.70V482.44H463.00Z" fill="#ff0000" fill-opacity="0.8"/><path d="M463.00 482.64L463.00 458.03L467.00 458.03L467.00 460.00L469.00 460.00L469.00 462.70L470.30 462.70L470.30 463.50L472.00 463.50L472.00 464.70L473.70 464.70L473.70 466.00L477.70 466.00L477.70 466.70L479.30 466.70L479.30 468.00L481.00 468.00L481.00 470.00L483.00 470.00L483.00 471.00L484.70 471.00L484.70 471.50L486.70 471.50L486.70 472.00L490.00 472.00L490.00 473.00L492.00 473.00L492.00 477.20L494.00 477.20L494.00 479.00L495.00 479.00L495.00 482.64ZM518.10 482.64L518.10 480.40L521.30 480.40L521.30 479.60L534.30 479.60L534.30 478.80L537.20 478.80L537.20 477.20L540.40 477.20L540.40 471.70L545.50 471.70L545.50 472.80L568.50 472.80L568.50 473.70L579.60 473.70L579.60 474.80L594.70 474.80L594.70 475.60L619.70 475.60L619.70 482.64Z" fill="#ff0000"/>
<rect x="456.5" y="458.53" width="169.70" height="24.41" fill="none" stroke="#000" stroke-opacity="0.47" stroke-width="1"/>
<rect x="245.0" y="486.66" width="171.70" height="25.42" fill="#c6e0a4"/>
<path d="M252.50 510.08H408.50V511.08H252.50Z" fill="#ff0000" fill-opacity="0.8"/><path d="M263.00 511.28L263.00 498.10L264.90 498.10L264.90 511.28ZM272.80 511.28L272.80 498.10L274.90 498.10L274.90 511.28ZM287.10 511.28L287.10 498.10L289.00 498.10L289.00 486.66L291.00 486.66L291.00 511.28ZM291.80 511.28L291.80 498.10L295.00 498.10L295.00 511.28ZM314.10 511.28L314.10 498.10L316.00 498.10L316.00 511.28ZM324.00 511.28L324.00 498.10L327.00 498.10L327.00 511.28ZM329.90 511.28L329.90 505.20L332.90 505.20L332.90 511.28ZM335.10 511.28L335.10 508.40L336.70 508.40L336.70 505.20L338.90 505.20L338.90 511.28ZM348.20 511.28L348.20 505.20L350.00 505.20L350.00 503.10L354.00 503.10L354.00 508.00L355.90 508.00L355.90 511.28ZM356.90 511.28L356.90 504.00L358.90 504.00L358.90 511.28ZM360.10 511.28L360.10 505.20L362.90 505.20L362.90 511.28ZM364.00 511.28L364.00 504.00L365.90 504.00L365.90 511.28ZM366.80 511.28L366.80 505.40L369.50 505.40L369.50 511.28ZM375.10 511.28L375.10 504.10L378.00 504.10L378.00 508.10L381.80 508.10L381.80 511.28ZM385.10 511.28L385.10 508.10L387.00 508.10L387.00 504.10L388.90 504.10L388.90 511.28ZM392.20 511.28L392.20 508.10L394.10 508.10L394.10 504.10L395.90 504.10L395.90 511.28ZM403.10 511.28L403.10 508.10L406.00 508.10L406.00 511.28Z" fill="#ff0000"/>
<rect x="245.5" y="487.16" width="170.70" height="24.42" fill="none" stroke="#000" stroke-opacity="0.47" stroke-width="1"/>
<rect x="456.0" y="486.66" width="170.70" height="25.42" fill="#d2d2d2"/>
<path d="M463.30 510.08H618.80V511.08H463.30Z" fill="#ff0000" fill-opacity="0.8"/><path d="M495.10 511.28L495.10 486.66L509.00 486.66L509.00 511.28ZM510.50 511.28L510.50 486.66L515.00 486.66L515.00 511.28Z" fill="#ff0000"/>
<rect x="456.5" y="487.16" width="169.70" height="24.42" fill="none" stroke="#000" stroke-opacity="0.47" stroke-width="1"/>
<rect x="245.0" y="515.29" width="171.70" height="25.43" fill="#c6e0a4"/>
<path d="M252.50 538.72H408.60V539.72H252.50Z" fill="#ff0000" fill-opacity="0.8"/><path d="M287.10 539.92L287.10 515.29L289.00 515.29L289.00 539.92ZM391.10 539.92L391.10 529.90L393.80 529.90L393.80 539.92Z" fill="#ff0000"/>
<rect x="245.5" y="515.79" width="170.70" height="24.43" fill="none" stroke="#000" stroke-opacity="0.47" stroke-width="1"/>
<rect x="456.0" y="515.29" width="170.70" height="25.43" fill="#d2d2d2"/>
<rect x="456.5" y="515.79" width="169.70" height="24.43" fill="none" stroke="#000" stroke-opacity="0.47" stroke-width="1"/>
<rect x="245.0" y="543.92" width="171.70" height="25.44" fill="#fdd09c"/>
<path d="M251.80 567.36H410.00V568.36H251.80Z" fill="#ff0000" fill-opacity="0.8"/><path d="M251.80 568.56L251.80 543.92L332.00 543.92L332.00 554.70L341.90 554.70L341.90 553.90L368.90 553.90L368.90 553.10L389.90 553.10L389.90 552.30L404.10 552.30L404.10 551.90L410.00 551.90L410.00 568.56Z" fill="#ff0000"/>
<rect x="245.5" y="544.42" width="170.70" height="24.44" fill="none" stroke="#000" stroke-opacity="0.47" stroke-width="1"/>
<rect x="456.0" y="543.92" width="170.70" height="25.44" fill="#d2d2d2"/>
<path d="M463.30 567.36H618.80V568.36H463.30Z" fill="#ff0000" fill-opacity="0.8"/><path d="M496.00 568.56L496.00 543.92L501.00 543.92L501.00 568.56ZM504.90 568.56L504.90 543.92L507.00 543.92L507.00 568.56ZM511.00 568.56L511.00 543.92L513.10 543.92L513.10 568.56Z" fill="#ff0000"/>
<rect x="456.5" y="544.42" width="169.70" height="24.44" fill="none" stroke="#000" stroke-opacity="0.47" stroke-width="1"/>
<rect x="245.0" y="572.55" width="171.70" height="25.45" fill="#fdd09c"/>
<rect x="245.5" y="573.05" width="170.70" height="24.45" fill="none" stroke="#000" stroke-opacity="0.47" stroke-width="1"/>
<rect x="456.0" y="572.55" width="170.70" height="25.45" fill="#d2d2d2"/>
<path d="M463.30 596.00H618.80V597.00H463.30Z" fill="#ff0000" fill-opacity="0.8"/><path d="M541.10 597.20L541.10 572.55L543.90 572.55L543.90 597.20ZM551.00 597.20L551.00 590.10L554.10 590.10L554.10 597.20ZM565.50 597.20L565.50 572.55L568.00 572.55L568.00 597.20ZM569.00 597.20L569.00 590.10L572.10 590.10L572.10 597.20ZM593.90 597.20L593.90 590.10L596.20 590.10L596.20 597.20Z" fill="#ff0000"/>
<rect x="456.5" y="573.05" width="169.70" height="24.45" fill="none" stroke="#000" stroke-opacity="0.47" stroke-width="1"/>
<rect x="245.0" y="601.18" width="171.70" height="15.82" fill="#fdd09c"/>
<rect x="245.5" y="601.68" width="170.70" height="14.82" fill="none" stroke="#000" stroke-opacity="0.47" stroke-width="1"/>
<rect x="456.0" y="601.18" width="170.70" height="15.82" fill="#d2d2d2"/>
<rect x="456.5" y="601.68" width="169.70" height="14.82" fill="none" stroke="#000" stroke-opacity="0.47" stroke-width="1"/>
<g font-family="Liberation Sans, sans-serif" font-size="5.5" fill="#222222">
<text x="236.6" y="25.97">0</text><text x="230.6 233.6 236.6" y="21.46">100</text><text x="230.6 233.6 236.6" y="16.95">200</text><text x="230.6 233.6 236.6" y="12.44">300</text><text x="230.6 233.6 236.6" y="7.93">400</text><text x="230.6 233.6 236.6" y="3.42">500</text>
<text x="447.3" y="25.97">0</text><text x="447.3" y="21.18">5</text><text x="444.3 447.3" y="16.39">10</text><text x="444.3 447.3" y="11.60">15</text><text x="444.3 447.3" y="6.81">20</text><text x="444.3 447.3" y="2.02">25</text>
<text x="236.6" y="54.61">0</text><text x="230.6 233.6 236.6" y="50.10">100</text><text x="230.6 233.6 236.6" y="45.59">200</text><text x="230.6 233.6 236.6" y="41.07">300</text><text x="230.6 233.6 236.6" y="36.56">400</text><text x="230.6 233.6 236.6" y="32.05">500</text>
<text x="447.3" y="54.61">0</text><text x="447.3" y="48.97">2</text><text x="447.3" y="43.33">4</text><text x="447.3" y="37.69">6</text><text x="447.3" y="32.05">8</text>
<text x="236.6" y="83.25">0</text><text x="236.6" y="77.58">2</text><text x="236.6" y="71.91">4</text><text x="236.6" y="66.25">6</text><text x="236.6" y="60.58">8</text>
<text x="447.3" y="83.25">0</text><text x="441.3 444.3 447.3" y="77.48">250</text><text x="441.3 444.3 447.3" y="71.71">500</text><text x="441.3 444.3 447.3" y="65.95">750</text><text x="438.3 441.3 444.3 447.3" y="60.18">1000</text>
<text x="236.6" y="111.89">0</text><text x="230.6 233.6 236.6" y="107.37">100</text><text x="230.6 233.6 236.6" y="102.86">200</text><text x="230.6 233.6 236.6" y="98.34">300</text><text x="230.6 233.6 236.6" y="93.82">400</text><text x="230.6 233.6 236.6" y="89.31">500</text>
<text x="447.3" y="111.89">0</text><text x="441.3 444.3 447.3" y="104.83">200</text><text x="441.3 444.3 447.3" y="97.77">400</text><text x="441.3 444.3 447.3" y="90.71">600</text>
<text x="236.6" y="140.53">0</text><text x="230.6 233.6 236.6" y="136.01">100</text><text x="230.6 233.6 236.6" y="131.49">200</text><text x="230.6 233.6 236.6" y="126.97">300</text><text x="230.6 233.6 236.6" y="122.46">400</text><text x="230.6 233.6 236.6" y="117.94">500</text>
<text x="447.3" y="140.53">0</text><text x="447.3" y="135.87">5</text><text x="444.3 447.3" y="131.21">10</text><text x="444.3 447.3" y="126.55">15</text><text x="444.3 447.3" y="121.90">20</text><text x="444.3 447.3" y="117.24">25</text>
<text x="236.6" y="169.17">0</text><text x="230.6 233.6 236.6" y="164.65">100</text><text x="230.6 233.6 236.6" y="160.13">200</text><text x="230.6 233.6 236.6" y="155.61">300</text><text x="230.6 233.6 236.6" y="151.09">400</text><text x="230.6 233.6 236.6" y="146.57">500</text>
<text x="447.3" y="169.17">0</text><text x="441.3 444.3 447.3" y="164.17">100</text><text x="441.3 444.3 447.3" y="159.17">200</text><text x="441.3 444.3 447.3" y="154.17">300</text><text x="441.3 444.3 447.3" y="149.17">400</text>
<text x="236.6" y="197.81">0</text><text x="236.6" y="192.13">2</text><text x="236.6" y="186.45">4</text><text x="236.6" y="180.78">6</text><text x="236.6" y="175.10">8</text>
<text x="447.3" y="197.81">0</text><text x="441.3 444.3 447.3" y="191.14">200</text><text x="441.3 444.3 447.3" y="184.47">400</text><text x="441.3 444.3 447.3" y="177.80">600</text>
<text x="228.6 231.6 233.6 236.6" y="226.45">0.00</text><text x="228.6 231.6 233.6 236.6" y="220.82">0.25</text><text x="228.6 231.6 233.6 236.6" y="215.19">0.50</text><text x="228.6 231.6 233.6 236.6" y="209.56">0.75</text><text x="228.6 231.6 233.6 236.6" y="203.93">1.00</text>
<text x="447.3" y="226.45">0</text><text x="444.3 447.3" y="221.67">10</text><text x="444.3 447.3" y="216.89">20</text><text x="444.3 447.3" y="212.11">30</text><text x="444.3 447.3" y="207.33">40</text>
<text x="231.6 234.6 236.6" y="255.09">0.0</text><text x="231.6 234.6 236.6" y="249.08">2.5</text><text x="231.6 234.6 236.6" y="243.07">5.0</text><text x="231.6 234.6 236.6" y="237.06">7.5</text>
<text x="447.3" y="255.09">0</text><text x="441.3 444.3 447.3" y="248.68">200</text><text x="441.3 444.3 447.3" y="242.27">400</text><text x="441.3 444.3 447.3" y="235.86">600</text>
<text x="236.6" y="283.73">0</text><text x="230.6 233.6 236.6" y="279.20">100</text><text x="230.6 233.6 236.6" y="274.67">200</text><text x="230.6 233.6 236.6" y="270.14">300</text><text x="230.6 233.6 236.6" y="265.62">400</text><text x="230.6 233.6 236.6" y="261.09">500</text>
<text x="447.3" y="283.73">0</text><text x="444.3 447.3" y="279.06">10</text><text x="444.3 447.3" y="274.39">20</text><text x="444.3 447.3" y="269.73">30</text><text x="444.3 447.3" y="265.06">40</text><text x="444.3 447.3" y="260.39">50</text>
<text x="236.6" y="312.37">0</text><text x="236.6" y="306.76">2</text><text x="236.6" y="301.14">4</text><text x="236.6" y="295.53">6</text><text x="236.6" y="289.92">8</text>
<text x="447.3" y="312.37">0</text><text x="444.3 447.3" y="305.79">10</text><text x="444.3 447.3" y="299.20">20</text><text x="444.3 447.3" y="292.62">30</text>
<text x="236.6" y="341.01">0</text><text x="236.6" y="334.16">5</text><text x="233.6 236.6" y="327.30">10</text><text x="233.6 236.6" y="320.45">15</text>
<text x="447.3" y="341.01">0</text><text x="444.3 447.3" y="335.24">10</text><text x="444.3 447.3" y="329.48">20</text><text x="444.3 447.3" y="323.71">30</text><text x="444.3 447.3" y="317.95">40</text>
<text x="236.6" y="369.65">0</text><text x="236.6" y="364.13">1</text><text x="236.6" y="358.61">2</text><text x="236.6" y="353.10">3</text><text x="236.6" y="347.58">4</text>
<text x="447.3" y="369.65">0</text><text x="447.3" y="363.96">2</text><text x="447.3" y="358.26">4</text><text x="447.3" y="352.57">6</text><text x="447.3" y="346.88">8</text>
<text x="236.6" y="398.29">0</text><text x="236.6" y="392.52">1</text><text x="236.6" y="386.75">2</text><text x="236.6" y="380.98">3</text><text x="236.6" y="375.21">4</text>
<text x="442.3 445.3 447.3" y="398.29">0.0</text><text x="442.3 445.3 447.3" y="393.51">2.5</text><text x="442.3 445.3 447.3" y="388.74">5.0</text><text x="442.3 445.3 447.3" y="383.96">7.5</text><text x="439.3 442.3 445.3 447.3" y="379.19">10.0</text><text x="439.3 442.3 445.3 447.3" y="374.41">12.5</text>
<text x="236.6" y="426.93">0</text><text x="236.6" y="421.23">2</text><text x="236.6" y="415.53">4</text><text x="236.6" y="409.84">6</text><text x="236.6" y="404.14">8</text>
<text x="442.3 445.3 447.3" y="426.93">0.0</text><text x="442.3 445.3 447.3" y="422.25">2.5</text><text x="442.3 445.3 447.3" y="417.57">5.0</text><text x="442.3 445.3 447.3" y="412.89">7.5</text><text x="439.3 442.3 445.3 447.3" y="408.22">10.0</text><text x="439.3 442.3 445.3 447.3" y="403.54">12.5</text>
<text x="236.6" y="455.57">0</text><text x="236.6" y="449.87">2</text><text x="236.6" y="444.17">4</text><text x="236.6" y="438.47">6</text><text x="236.6" y="432.77">8</text>
<text x="447.3" y="455.57">0</text><text x="444.3 447.3" y="448.57">20</text><text x="444.3 447.3" y="441.57">40</text><text x="444.3 447.3" y="434.57">60</text>
<text x="236.6" y="484.21">0</text><text x="236.6" y="479.67">1</text><text x="236.6" y="475.12">2</text><text x="236.6" y="470.58">3</text><text x="236.6" y="466.04">4</text><text x="236.6" y="461.50">5</text>
<text x="447.3" y="484.21">0</text><text x="441.3 444.3 447.3" y="478.43">200</text><text x="441.3 444.3 447.3" y="472.65">400</text><text x="441.3 444.3 447.3" y="466.88">600</text><text x="441.3 444.3 447.3" y="461.10">800</text>
<text x="236.6" y="512.85">0</text><text x="236.6" y="505.78">5</text><text x="233.6 236.6" y="498.70">10</text><text x="233.6 236.6" y="491.63">15</text>
<text x="447.3" y="512.85">0</text><text x="447.3" y="507.14">2</text><text x="447.3" y="501.44">4</text><text x="447.3" y="495.73">6</text><text x="447.3" y="490.03">8</text>
<text x="236.6" y="541.49">0</text><text x="236.6" y="535.78">2</text><text x="236.6" y="530.07">4</text><text x="236.6" y="524.37">6</text><text x="236.6" y="518.66">8</text>
<text x="447.3" y="541.49">0</text><text x="441.3 444.3 447.3" y="536.94">100</text><text x="441.3 444.3 447.3" y="532.40">200</text><text x="441.3 444.3 447.3" y="527.85">300</text><text x="441.3 444.3 447.3" y="523.31">400</text><text x="441.3 444.3 447.3" y="518.76">500</text>
<text x="236.6" y="570.13">0</text><text x="230.6 233.6 236.6" y="564.02">200</text><text x="230.6 233.6 236.6" y="557.90">400</text><text x="230.6 233.6 236.6" y="551.79">600</text>
<text x="447.3" y="570.13">0</text><text x="447.3" y="564.42">2</text><text x="447.3" y="558.71">4</text><text x="447.3" y="553.00">6</text><text x="447.3" y="547.29">8</text>
<text x="236.6" y="598.77">0</text><text x="230.6 233.6 236.6" y="594.22">100</text><text x="230.6 233.6 236.6" y="589.67">200</text><text x="230.6 233.6 236.6" y="585.12">300</text><text x="230.6 233.6 236.6" y="580.57">400</text><text x="230.6 233.6 236.6" y="576.02">500</text>
<text x="447.3" y="598.77">0</text><text x="447.3" y="593.23">1</text><text x="447.3" y="587.69">2</text><text x="447.3" y="582.16">3</text><text x="447.3" y="576.62">4</text>
<text x="236.6" y="617.77">0</text><text x="230.6 233.6 236.6" y="615.11">100</text><text x="230.6 233.6 236.6" y="612.44">200</text><text x="230.6 233.6 236.6" y="609.78">300</text><text x="230.6 233.6 236.6" y="607.11">400</text><text x="230.6 233.6 236.6" y="604.45">500</text>
<text x="447.3" y="617.77">0</text><text x="441.3 444.3 447.3" y="615.11">100</text><text x="441.3 444.3 447.3" y="612.44">200</text><text x="441.3 444.3 447.3" y="609.78">300</text><text x="441.3 444.3 447.3" y="607.11">400</text><text x="441.3 444.3 447.3" y="604.45">500</text>
</g>
<g font-family="Liberation Sans, sans-serif" font-size="7.1" fill="#5a5a5a" text-anchor="middle">
<text x="252.90" y="628.3">0</text>
<text x="291.93" y="628.3">5kb</text>
<text x="330.95" y="628.3">10kb</text>
<text x="369.98" y="628.3">15kb</text>
<text x="409.00" y="628.3">20kb</text>
<text x="464.00" y="628.3">0</text>
<text x="502.73" y="628.3">5kb</text>
<text x="541.45" y="628.3">10kb</text>
<text x="580.17" y="628.3">15kb</text>
<text x="618.90" y="628.3">20kb</text>
</g>
</svg></body></html>
